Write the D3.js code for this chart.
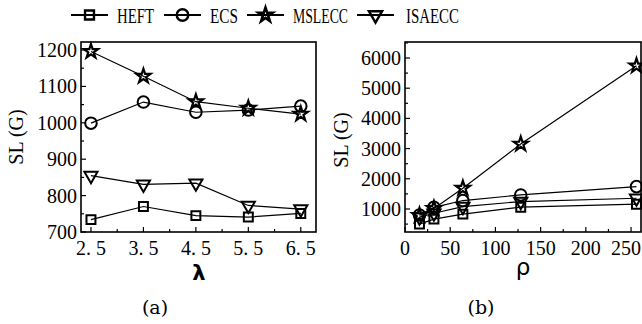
<!DOCTYPE html>
<html><head><meta charset="utf-8">
<script src="https://cdn.jsdelivr.net/npm/d3@7"></script>
<style>html,body{margin:0;padding:0;background:#fff;}</style>
</head><body>
<svg id="c" width="642" height="324"></svg>
<script>
// ---- data ----
const seriesNames = ["HEFT", "ECS", "MSLECC", "ISAECC"];
const lambdaValues = [2.5, 3.5, 4.5, 5.5, 6.5];
const lambdaTickLabels = ["2. 5", "3. 5", "4. 5", "5. 5", "6. 5"];
const slLambdaHEFT   = [734, 770, 745, 741, 751];
const slLambdaECS    = [999, 1057, 1029, 1035, 1046];
const slLambdaMSLECC = [1196, 1128, 1058, 1040, 1024];
const slLambdaISAECC = [855, 831, 834, 773, 763];
const rhoValues = [16, 32, 64, 128, 256];
const rhoTicks = [0, 50, 100, 150, 200, 250];
const slRhoHEFT   = [500, 665, 830, 1060, 1160];
const slRhoECS    = [800, 1055, 1280, 1465, 1740];
const slRhoMSLECC = [790, 1020, 1690, 3150, 5740];
const slRhoISAECC = [730, 860, 1080, 1245, 1355];
const leftYTicks = [700, 800, 900, 1000, 1100, 1200];
const rightYTicks = [1000, 2000, 3000, 4000, 5000, 6000];

const svg = d3.select("#c");
const markerTypes = {
  HEFT: d3.symbolSquare, ECS: d3.symbolCircle, MSLECC: d3.symbolStar, ISAECC: d3.symbolTriangle
};
const markerSize = {HEFT: 80, ECS: 105, MSLECC: 62, ISAECC: 75};
function marker(g, name, x, y, fill, sw) {
  const p = g.append("path")
    .attr("d", d3.symbol().type(markerTypes[name]).size(markerSize[name])())
    .attr("fill", fill).attr("stroke", "#000").attr("stroke-width", sw || 2)
    .attr("transform", `translate(${x},${y})` + (name === "ISAECC" ? " rotate(180)" : ""));
  if (name === "MSLECC") p.attr("stroke-width", (sw || 2) + 0.2).attr("stroke-linejoin", "miter");
}

function panel(opts) {
  const {x0, x1, y0, y1, xDomain, yDomain, xs, seriesData, xTicks, xTickLabels, xMinor, yTicks, yMinor} = opts;
  const x = d3.scaleLinear().domain(xDomain).range([x0, x1]);
  const y = d3.scaleLinear().domain(yDomain).range([y1, y0]);
  const g = svg.append("g");
  seriesNames.forEach((name, i) => {
    const vals = seriesData[i];
    const line = d3.line().x((d, j) => x(xs[j])).y(d => y(d));
    g.append("path").attr("d", line(vals)).attr("fill", "none")
      .attr("stroke", "#000").attr("stroke-width", 1.2);
  });
  seriesNames.forEach((name, i) => {
    seriesData[i].forEach((v, j) => marker(g, name, x(xs[j]), y(v), "none"));
  });
  const tk = svg.append("g").attr("stroke", "#000").attr("stroke-width", 1.2);
  xTicks.forEach(t => tk.append("line").attr("x1", x(t)).attr("x2", x(t)).attr("y1", y1).attr("y2", y1 - 5));
  xMinor.forEach(t => tk.append("line").attr("x1", x(t)).attr("x2", x(t)).attr("y1", y1).attr("y2", y1 - 3));
  yTicks.forEach(t => tk.append("line").attr("x1", x0).attr("x2", x0 + 5).attr("y1", y(t)).attr("y2", y(t)));
  yMinor.forEach(t => tk.append("line").attr("x1", x0).attr("x2", x0 + 3).attr("y1", y(t)).attr("y2", y(t)));
  svg.append("rect").attr("x", x0).attr("y", y0).attr("width", x1 - x0).attr("height", y1 - y0)
    .attr("fill", "none").attr("stroke", "#000").attr("stroke-width", 1.6);
  const lab = svg.append("g").attr("font-family", "'Liberation Serif', serif").attr("font-size", 20).attr("fill", "#000");
  xTicks.forEach((t, i) => {
    const px = x(t);
    const tx = lab.append("text").attr("y", y1 + 23).text(xTickLabels[i]);
    if (px + 15 > 642) tx.attr("x", 641).attr("text-anchor", "end");
    else tx.attr("x", px).attr("text-anchor", "middle");
  });
  yTicks.forEach(t => lab.append("text").attr("x", x0 - 4).attr("y", y(t) + 7)
    .attr("text-anchor", "end").text(t));
  return {x, y};
}

panel({
  x0: 81, x1: 316, y0: 42, y1: 232,
  xDomain: [2.31, 6.79], yDomain: [700, 1222], xs: lambdaValues,
  seriesData: [slLambdaHEFT, slLambdaECS, slLambdaMSLECC, slLambdaISAECC],
  xTicks: lambdaValues, xTickLabels: lambdaTickLabels, xMinor: [3, 4, 5, 6],
  yTicks: leftYTicks, yMinor: [750, 850, 950, 1050, 1150]
});
panel({
  x0: 405, x1: 641, y0: 42, y1: 232,
  xDomain: [0, 261], yDomain: [238, 6530], xs: rhoValues,
  seriesData: [slRhoHEFT, slRhoECS, slRhoMSLECC, slRhoISAECC],
  xTicks: rhoTicks, xTickLabels: rhoTicks.map(String), xMinor: [25, 75, 125, 175, 225],
  yTicks: rightYTicks, yMinor: [500, 1500, 2500, 3500, 4500, 5500, 6500]
});

const t = svg.append("g").attr("fill", "#000");
t.append("text").attr("transform", "translate(23,137) rotate(-90)").attr("text-anchor", "middle")
  .attr("font-family", "'Liberation Serif', serif").attr("font-size", 20).text("SL (G)");
t.append("text").attr("transform", "translate(348,140) rotate(-90)").attr("text-anchor", "middle")
  .attr("font-family", "'Liberation Serif', serif").attr("font-size", 20).text("SL (G)");
t.append("text").attr("x", 199).attr("y", 280).attr("text-anchor", "middle")
  .attr("font-family", "'DejaVu Sans', sans-serif").attr("font-weight", "bold").attr("font-size", 21).text("λ");
t.append("text").attr("x", 523).attr("y", 275).attr("text-anchor", "middle")
  .attr("font-family", "'DejaVu Sans', sans-serif").attr("font-size", 23).text("ρ");
t.append("text").attr("x", 155).attr("y", 314).attr("text-anchor", "middle")
  .attr("font-family", "'DejaVu Serif', serif").attr("font-size", 19).text("(a)");
t.append("text").attr("x", 481).attr("y", 314).attr("text-anchor", "middle")
  .attr("font-family", "'DejaVu Serif', serif").attr("font-size", 19).text("(b)");

const legendPos = [{l: 71, tx: 117, tw: 37}, {l: 164, tx: 210, tw: 28}, {l: 247, tx: 293, tw: 55}, {l: 357, tx: 406, tw: 53}];
const lg = svg.append("g");
seriesNames.forEach((name, i) => {
  const p = legendPos[i];
  lg.append("line").attr("x1", p.l).attr("x2", p.l + 37).attr("y1", 15).attr("y2", 15)
    .attr("stroke", "#000").attr("stroke-width", 1.8);
  marker(lg, name, p.l + 18.5, 15, "none", 2.4);
  lg.append("text").attr("x", p.tx).attr("y", 23)
    .attr("font-family", "'Liberation Serif', serif").attr("font-size", 22)
    .attr("textLength", p.tw).attr("lengthAdjust", "spacingAndGlyphs").text(name);
});
</script>
</body></html>
